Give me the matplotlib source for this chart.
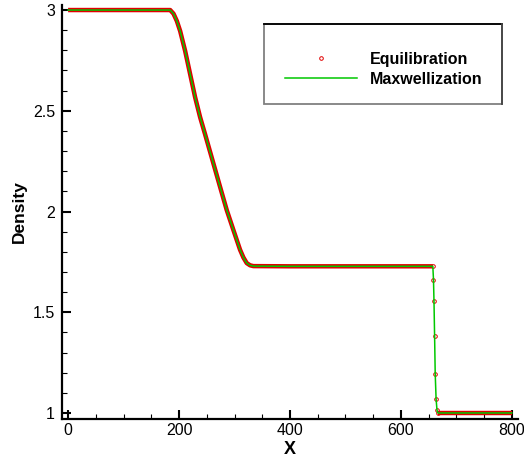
import numpy as np
import matplotlib
matplotlib.use("Agg")
import matplotlib.pyplot as plt
from matplotlib.patches import Rectangle

plt.rcParams['font.family'] = ['Liberation Sans', 'DejaVu Sans']

# left state + rarefaction + plateau (cells too dense to tell apart)
x_left = [0, 60, 120, 170, 184, 190, 196, 202, 211, 220, 229, 238, 247, 262, 274,
          286, 298, 310, 316, 322, 328, 334, 400, 500, 600, 657.5]
rho_left = [3.0, 3.0, 3.0, 3.0, 3.0, 2.982, 2.946, 2.896, 2.797, 2.682, 2.567, 2.468,
            2.383, 2.238, 2.122, 2.007, 1.908, 1.810, 1.772, 1.744, 1.733, 1.729,
            1.728, 1.728, 1.728, 1.728]

# cells inside the shock
x_shock = [657.5, 658.7, 659.6, 660.7, 661.8, 663.4, 665.0, 666.5]
rho_shock = [1.728, 1.662, 1.554, 1.381, 1.195, 1.069, 1.015, 1.0]

# right state
x_right = [666.5, 700, 750, 800]
rho_right = [1.0, 1.0, 1.0, 1.0]

x_all = x_left + x_shock[1:] + x_right[1:]
rho_all = rho_left + rho_shock[1:] + rho_right[1:]

red = '#e00000'
green = '#00c800'

fig = plt.figure(figsize=(5.24, 4.59), dpi=100)
ax = fig.add_axes([0.1183, 0.0871, 0.8702, 0.902])

# Equilibration: dense ring markers form a solid band
ax.plot(x_left, rho_left, color=red, lw=3.2, solid_capstyle='butt')
ax.plot(x_right, rho_right, color=red, lw=3.2, solid_capstyle='butt')
ax.plot(x_shock, rho_shock, ls='none', marker='o', ms=2.6, mfc='none', mec=red,
        mew=0.7, label='Equilibration')
# Maxwellization
ax.plot(x_all, rho_all, color=green, lw=1.1, label='Maxwellization')

ax.set_xlim(-11, 811)
ax.set_ylim(0.97, 3.025)
ax.set_xticks([0, 200, 400, 600, 800])
ax.set_xticks(np.arange(0, 801, 50), minor=True)
ax.set_yticks([1, 1.5, 2, 2.5, 3])
ax.set_yticklabels(['1', '1.5', '2', '2.5', '3'])
ax.set_yticks(np.arange(1, 3.01, 0.1), minor=True)

for s in ['top', 'right']:
    ax.spines[s].set_visible(False)
for s in ['left', 'bottom']:
    ax.spines[s].set_linewidth(1.6)

ax.tick_params(which='major', direction='in', length=6.5, width=1.5,
               labelsize=11.5, top=False, right=False)
ax.tick_params(which='minor', direction='in', length=3.6, width=0.8,
               top=False, right=False)
ax.tick_params(axis='x', pad=3)
ax.tick_params(axis='y', pad=5)

ax.set_xlabel('X', fontsize=13, fontweight='bold', labelpad=2)
ax.set_ylabel('Density', fontsize=12.5, fontweight='bold', labelpad=4)

# legend box (Tecplot style: black top, grey left/bottom)
bx, by, bw, bh = 0.443, 0.761, 0.522, 0.193
ax.add_patch(Rectangle((bx, by), bw, bh, transform=ax.transAxes, facecolor='white',
                       edgecolor='#808080', lw=1.3, zorder=4))
ax.plot([bx, bx + bw], [by + bh, by + bh], transform=ax.transAxes, color='black',
        lw=1.3, zorder=4.1)
ax.plot([bx + bw, bx + bw], [by, by + bh], transform=ax.transAxes, color='#444444',
        lw=1.3, zorder=4.1)

leg = ax.legend(loc='upper left', bbox_to_anchor=(0.489, 0.887), borderaxespad=0,
                prop={'weight': 'bold', 'size': 11.5}, numpoints=1,
                handlelength=4.5, handletextpad=0.8, labelspacing=0.32,
                borderpad=0, frameon=False)
leg.set_zorder(5)

fig.savefig('out.png', dpi=100)
